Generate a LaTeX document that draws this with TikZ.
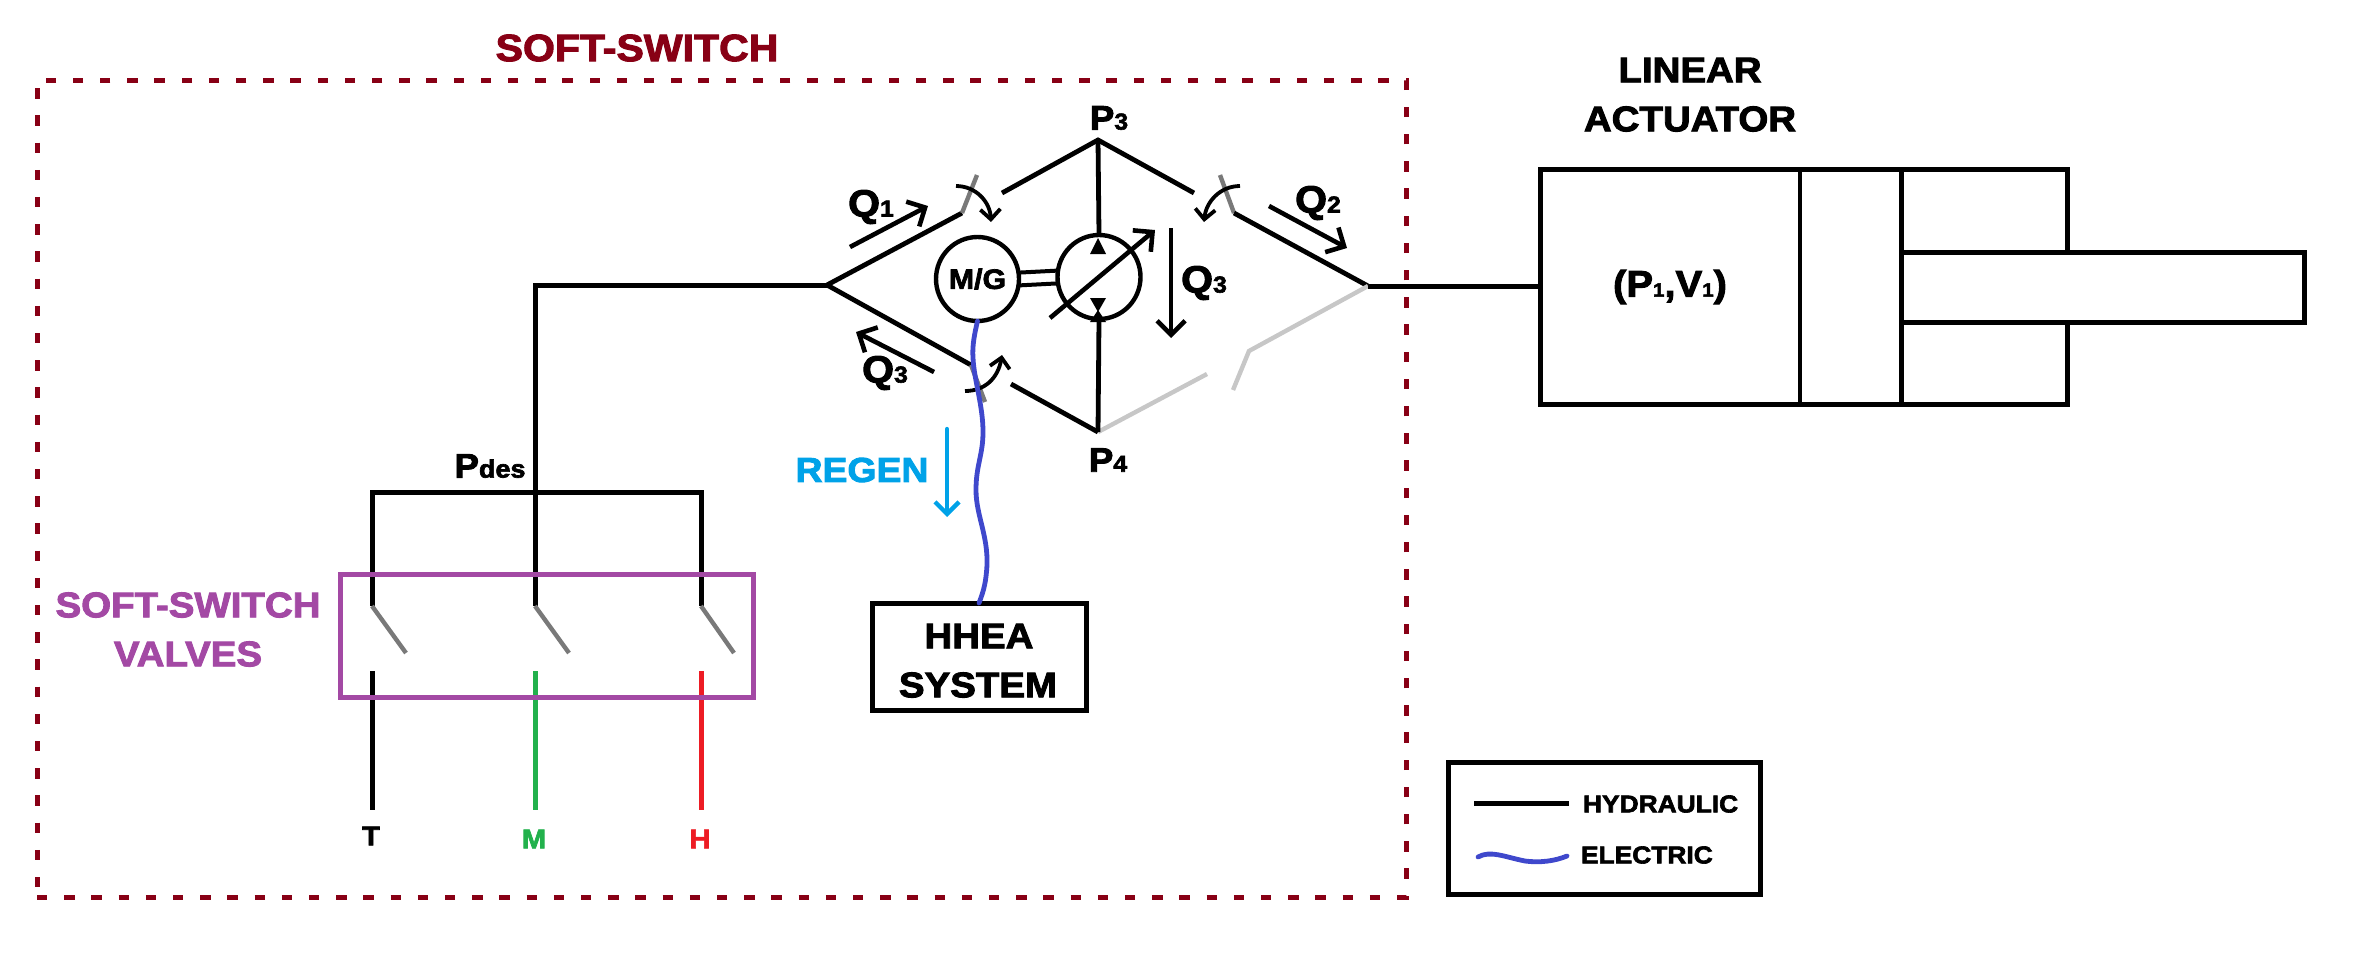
\documentclass[tikz,border=0pt]{standalone}
\usepackage{fontspec}
\setmainfont{Liberation Sans}[BoldFeatures={FakeBold=2.6,FakeStretch=1.08}]
\usetikzlibrary{arrows.meta,shapes.geometric}
\definecolor{ssred}{RGB}{136,0,21}
\definecolor{sspurple}{RGB}{163,73,164}
\definecolor{ssblue}{RGB}{0,162,232}
\definecolor{elec}{RGB}{63,72,204}
\definecolor{ssgreen}{RGB}{34,177,76}
\definecolor{hred}{RGB}{237,28,36}
\newcommand{\txt}[1]{\fontsize{#1}{#1}\selectfont\bfseries}
\newcommand{\lowsub}[1]{{\fontsize{11.5}{11.5}\selectfont #1}}
\newcommand{\tinysub}[1]{{\fontsize{9.5}{9.5}\selectfont #1}}
\tikzset{
  x=0.5pt,y=-0.5pt,
  hyd/.style={line width=2.5pt,black},
  thinhyd/.style={line width=2.4pt,black},
  valve/.style={line width=2.2pt,gray!95!black},
  offline/.style={line width=2.2pt,black!22},
  elecwire/.style={line width=2.4pt,elec,line cap=round},
  flowarrow/.style={line width=2.3pt,-{Straight Barb[length=7pt,width=14pt,line width=2.3pt]}},
  turnarrow/.style={line width=1.9pt,-{Straight Barb[length=5pt,width=10pt,line width=1.9pt]}},
  lab/.style={inner sep=0pt,outer sep=0pt,align=center,font=\txt{17.8}},
  qlab/.style={inner sep=0pt,outer sep=0pt,font=\txt{19}},
  plab/.style={inner sep=0pt,outer sep=0pt,font=\txt{17}},
  smalllab/.style={inner sep=0pt,outer sep=0pt,font=\txt{12.2}},
  portlab/.style={inner sep=0pt,outer sep=0pt,font=\txt{13.5}},
  machine/.style={draw,line width=2.2pt,ellipse,inner sep=0pt,outer sep=0pt,minimum width=41.5pt,minimum height=42pt},
  boxed/.style={draw,line width=2.5pt,inner sep=0pt,outer sep=0pt,anchor=north west},
  tri/.style={fill=black,draw=none}
}
\begin{document}
\begin{tikzpicture}
\useasboundingbox (0,0) rectangle (2371,954);
% outer soft-switch dashed frame
\node[boxed,draw=ssred,dash pattern=on 5.2pt off 8.4pt,minimum width=684.5pt,minimum height=408.5pt] (frame) at (37,80) {};
\node[lab,text=ssred,font=\txt{19}] (ttl) at (637,48) {SOFT-SWITCH};
% coordinates of the bridge
\coordinate (JL) at (827,285);
\coordinate (JR) at (1368,286);
\coordinate (P3c) at (1098,140);
\coordinate (P4c) at (1098,432);
\coordinate (ULa) at (962,213);
\coordinate (ULb) at (977,175);
\coordinate (ULc) at (1002,193);
\coordinate (URa) at (1194,193);
\coordinate (URb) at (1220,175);
\coordinate (URc) at (1234,213);
\coordinate (LLa) at (971,365);
\coordinate (LLb) at (985,402);
\coordinate (LLc) at (1011,384);
\coordinate (LRa) at (1207,374);
\coordinate (LRb) at (1233,390);
\coordinate (LRc) at (1249,351);
% manifold
\coordinate (Stem) at (535,285);
\coordinate (TL) at (372,492);
\coordinate (TR) at (701,492);
\coordinate (S1) at (372,606);
\coordinate (S2) at (535,606);
\coordinate (S3) at (701,606);
\coordinate (S1e) at (406,653);
\coordinate (S2e) at (569,653);
\coordinate (S3e) at (734,653);
\coordinate (B1) at (372,671);
\coordinate (B2) at (535,671);
\coordinate (B3) at (701,671);
\coordinate (E1) at (372,810);
\coordinate (E2) at (535,810);
\coordinate (E3) at (701,810);
\draw[hyd] (JL) -- (Stem) -- (S2);
\draw[hyd] (S1) -- (TL) -- (TR) -- (S3);
\draw[valve] (S1) -- (S1e);
\draw[valve] (S2) -- (S2e);
\draw[valve] (S3) -- (S3e);
\draw[hyd] (B1) -- (E1);
\draw[hyd,ssgreen] (B2) -- (E2);
\draw[hyd,hred] (B3) -- (E3);
\node[boxed,draw=sspurple,minimum width=206.5pt,minimum height=61.5pt] (vbox) at (340,574) {};
\node[lab,text=sspurple] (vlab1) at (188,605) {SOFT-SWITCH};
\node[lab,text=sspurple] (vlab2) at (188,654) {VALVES};
\node[portlab] (T) at (371,836) {T};
\node[portlab,text=ssgreen] (M) at (534,839) {M};
\node[portlab,text=hred] (H) at (700,839) {H};
\node[plab] (pdes) at (490,466) {P{\fontsize{12.5}{12.5}\selectfont des}};
% bridge
\draw[thinhyd] (JL) -- (ULa);
\draw[valve] (ULa) -- (ULb);
\draw[thinhyd] (ULc) -- (P3c) -- (URa);
\draw[valve] (URb) -- (URc);
\draw[thinhyd] (URc) -- (JR);
\draw[thinhyd] (JL) -- (LLa);
\draw[valve] (LLa) -- (LLb);
\draw[thinhyd] (LLc) -- (P4c);
\draw[offline] (P4c) -- (LRa);
\draw[offline] (LRb) -- (LRc) -- (JR);
% machines
\node[machine,font=\txt{14}] (mg) at (977.5,279) {M/G};
\node[machine] (pump) at (1099,277) {};
\draw[thinhyd] (P3c) -- (pump.north);
\draw[thinhyd] (P4c) -- (pump.south);
\draw[line width=2pt] ([yshift=3.2pt]mg.east) -- ([yshift=3.2pt]pump.west);
\draw[line width=2pt] ([yshift=-3.2pt]mg.east) -- ([yshift=-3.2pt]pump.west);
\draw[tri] (1098,238) -- (1106,254) -- (1090,254) -- cycle;
\draw[tri] (1090,298) -- (1106,298) -- (1098,312) -- cycle;
\draw[tri] (1098,310) -- (1106,322) -- (1090,322) -- cycle;
\coordinate (dgA) at (1050,318);
\coordinate (dgB) at (1155,230);
\draw[flowarrow] (dgA) -- (dgB);
% flow arrows
\coordinate (q1a) at (850,247); \coordinate (q1b) at (928,206);
\coordinate (q2a) at (1269,206); \coordinate (q2b) at (1347,248);
\coordinate (q3a) at (1171,228); \coordinate (q3b) at (1171,338);
\coordinate (q4a) at (934,372); \coordinate (q4b) at (856,332);
\draw[flowarrow] (q1a) -- (q1b);
\draw[flowarrow] (q2a) -- (q2b);
\draw[flowarrow] (q3a) -- (q3b);
\draw[flowarrow] (q4a) -- (q4b);
\node[qlab] (Q1) at (871,207) {Q\lowsub{1}};
\node[qlab] (Q2) at (1318,203) {Q\lowsub{2}};
\node[qlab] (Q3v) at (1204,283) {Q\lowsub{3}};
\node[qlab] (Q3l) at (885,373) {Q\lowsub{3}};
\node[plab] (P3) at (1109,118) {P\lowsub{3}};
\node[plab] (P4) at (1108,460) {P\lowsub{4}};
% valve turn arrows
\coordinate (t1a) at (956,186); \coordinate (t1b) at (991,222);
\coordinate (t2a) at (1240,186); \coordinate (t2b) at (1204,222);
\coordinate (t3a) at (965,391); \coordinate (t3b) at (1002,355);
\draw[turnarrow] (t1a) .. controls (976,186) and (990,202) .. (t1b);
\draw[turnarrow] (t2a) .. controls (1220,186) and (1206,202) .. (t2b);
\draw[turnarrow] (t3a) .. controls (985,391) and (998,378) .. (t3b);
% HHEA
\node[boxed,minimum width=107pt,minimum height=53.5pt] (hhea) at (872,603) {};
\node[lab] (hh1) at (979,636) {HHEA};
\node[lab] (hh2) at (978,685) {SYSTEM};
% electric wire
\coordinate (wireEnd) at (979,603);
\draw[elecwire] (mg.south) .. controls (975,332) and (972,345) .. (973,358)
  .. controls (974,380) and (983,405) .. (983,432)
  .. controls (983,455) and (976,465) .. (976,490)
  .. controls (976,515) and (988,535) .. (987,565)
  .. controls (986,582) and (984,590) .. (wireEnd);
% regen
\node[lab,text=ssblue,font=\txt{17.3}] (regen) at (862,470) {REGEN};
\coordinate (r1) at (947,429); \coordinate (r2) at (947,517);
\draw[ssblue,line width=2.2pt,line cap=round,-{Straight Barb[length=6pt,width=12pt,line width=2.2pt]}] (r1) -- (r2);
% actuator
\node[boxed,minimum width=263.5pt,minimum height=117.5pt] (cyl) at (1540,169) {};
\node[boxed,fill=white,minimum width=201.5pt,minimum height=35pt] (rod) at (1901,252) {};
\coordinate (Ab) at (1540,286);
\draw[hyd] (JR) -- (Ab);
\coordinate (pt1) at (1800,169); \coordinate (pb1) at (1800,404);
\coordinate (pt2) at (1901,169); \coordinate (pb2) at (1901,404);
\draw[line width=2.2pt] (pt1) -- (pb1);
\draw[line width=2.5pt] (pt2) -- (pb2);
\node[plab,font=\txt{18.5}] (pv) at (1670,287) {(P\tinysub{1},V\tinysub{1})};
\node[lab] (la1) at (1690,70) {LINEAR};
\node[lab] (la2) at (1690,119) {ACTUATOR};
% legend
\node[boxed,minimum width=156pt,minimum height=66pt] (legend) at (1448,762) {};
\coordinate (lg1) at (1474,803); \coordinate (lg2) at (1569,803);
\draw[hyd] (lg1) -- (lg2);
\node[smalllab,anchor=west] (lgh) at (1583,804) {HYDRAULIC};
\coordinate (lg3) at (1478,857); \coordinate (lg4) at (1567,856);
\draw[elecwire] (lg3) .. controls (1490,850) and (1505,857) .. (1525,861) .. controls (1540,863) and (1555,861) .. (lg4);
\node[smalllab,anchor=west] (lge) at (1581,855) {ELECTRIC};
\end{tikzpicture}
\end{document}
